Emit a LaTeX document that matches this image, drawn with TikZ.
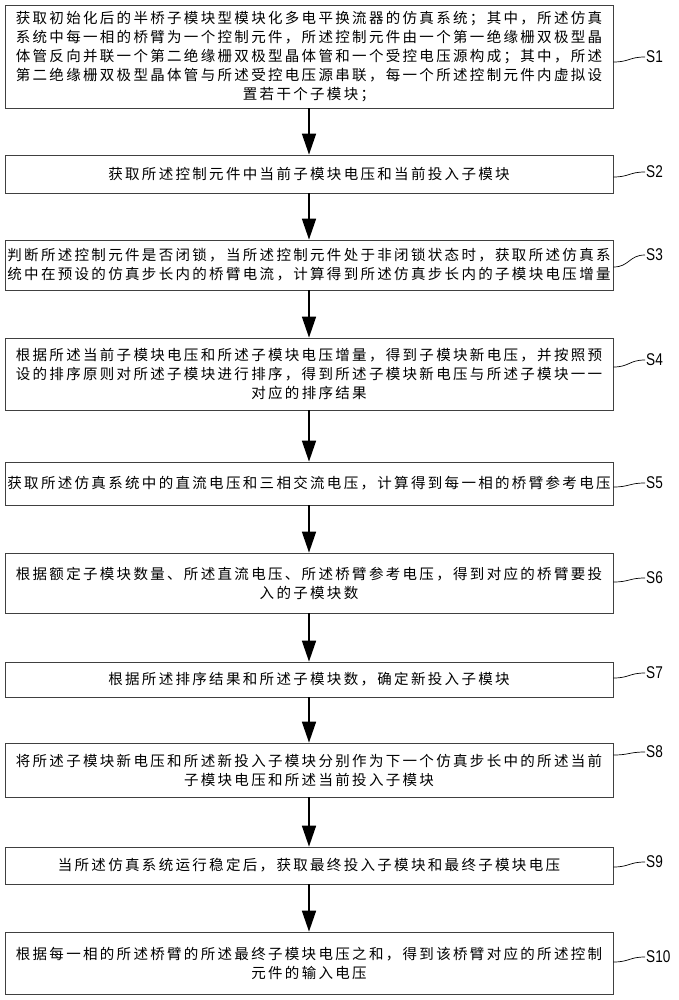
\documentclass[tikz,border=0pt]{standalone}
\usepackage{fontspec}
\setmainfont{Liberation Sans}
\newfontfamily\cjk[LetterSpace=16]{Noto Sans CJK SC}
\newfontfamily\tagfont[FakeStretch=0.8]{Liberation Sans}
\usetikzlibrary{arrows.meta}

\tikzset{%
  stepbox/.style={
    rectangle,
    draw=black!75,
    line width=0.8pt,
    minimum width=608pt,
    inner sep=0pt,
    align=center,
    font=\cjk\fontsize{14.5}{19}\selectfont
  },
  flow/.style={
    line width=1.7pt,
    -{Triangle[length=21pt,width=14pt]}
  },
  tag/.style={
    anchor=west,
    inner sep=1pt,
    font=\tagfont\fontsize{17}{17}\selectfont
  },
  leader/.style={
    line width=0.7pt
  },
}

\begin{document}
\begin{tikzpicture}[x=1pt,y=-1pt]
\useasboundingbox (0,0) rectangle (678,1000);
\node[stepbox,minimum height=103pt] (s1) at (309,56.5) {获取初始化后的半桥子模块型模块化多电平换流器的仿真系统；其中，所述仿真\\系统中每一相的桥臂为一个控制元件，所述控制元件由一个第一绝缘栅双极型晶\\体管反向并联一个第二绝缘栅双极型晶体管和一个受控电压源构成；其中，所述\\第二绝缘栅双极型晶体管与所述受控电压源串联，每一个所述控制元件内虚拟设\\置若干个子模块；};
\node[stepbox,minimum height=38pt] (s2) at (309,174) {获取所述控制元件中当前子模块电压和当前投入子模块};
\node[stepbox,minimum height=50pt] (s3) at (309,265) {判断所述控制元件是否闭锁，当所述控制元件处于非闭锁状态时，获取所述仿真系\\统中在预设的仿真步长内的桥臂电流，计算得到所述仿真步长内的子模块电压增量};
\node[stepbox,minimum height=72pt] (s4) at (309,374) {根据所述当前子模块电压和所述子模块电压增量，得到子模块新电压，并按照预\\设的排序原则对所述子模块进行排序，得到所述子模块新电压与所述子模块一一\\对应的排序结果};
\node[stepbox,minimum height=43pt] (s5) at (309,483.5) {获取所述仿真系统中的直流电压和三相交流电压，计算得到每一相的桥臂参考电压};
\node[stepbox,minimum height=60pt] (s6) at (309,583) {根据额定子模块数量、所述直流电压、所述桥臂参考电压，得到对应的桥臂要投\\入的子模块数};
\node[stepbox,minimum height=35pt] (s7) at (309,679.5) {根据所述排序结果和所述子模块数，确定新投入子模块};
\node[stepbox,minimum height=54pt] (s8) at (309,770) {将所述子模块新电压和所述新投入子模块分别作为下一个仿真步长中的所述当前\\子模块电压和所述当前投入子模块};
\node[stepbox,minimum height=37pt] (s9) at (309,865.5) {当所述仿真系统运行稳定后，获取最终投入子模块和最终子模块电压};
\node[stepbox,minimum height=62pt] (s10) at (309,963) {根据每一相的所述桥臂的所述最终子模块电压之和，得到该桥臂对应的所述控制\\元件的输入电压};

% arrows between steps
\foreach \a/\b in {1/2,2/3,3/4,4/5,5/6,6/7,7/8,8/9,9/10}
  \draw[flow] (s\a) -- (s\b);

% step labels
\foreach \i/\ty/\dy in {1/57/-5.5,2/172/-3,3/255/-2,4/360/7,5/483/-3.5,6/578/1,7/673/1.5,8/752/15,9/862/-1.5,10/957/1} {
  \node[tag] (t\i) at (645,\ty) {S\i};
  \draw[leader] ([yshift=\dy pt]s\i.east) .. controls +(16,0) and +(-16,0) .. (t\i.west);
}
\end{tikzpicture}
\end{document}
